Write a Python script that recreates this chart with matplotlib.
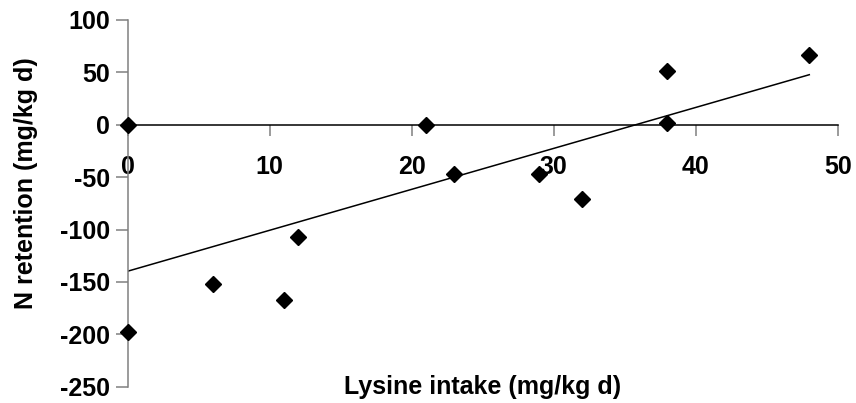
import numpy as np
import matplotlib
matplotlib.use("Agg")
import matplotlib.pyplot as plt

plt.rcParams["font.family"] = ["Liberation Sans", "DejaVu Sans"]
plt.rcParams["font.weight"] = "bold"
plt.rcParams["axes.unicode_minus"] = False

# lysine intake (mg/kg d) vs N retention (mg/kg d)
lys = [0, 0, 6, 11, 12, 21, 23, 29, 32, 38, 38, 48]
nret = [0, -198, -152, -167, -107, 0, -47, -47, -71, 51, 2, 67]

slope, icpt = np.polyfit(lys, nret, 1)
xfit = np.array([min(lys), max(lys)])

fig = plt.figure(figsize=(8.56, 4.03), dpi=100)
ax = fig.add_axes([0.1492, 0.0404, 0.8294, 0.91])

ax.plot(xfit, icpt + slope * xfit, color="black", lw=1.1, zorder=2)
ax.plot(lys, nret, "D", color="black", ms=8, zorder=3, clip_on=False)

ax.set_xlim(0, 50)
ax.set_ylim(-250, 100)
ax.set_xticks([0, 10, 20, 30, 40, 50])
ax.set_yticks([100, 50, 0, -50, -100, -150, -200, -250])

for s in ("top", "right"):
    ax.spines[s].set_visible(False)
ax.spines["bottom"].set_position(("data", 0))
ax.spines["bottom"].set_color("black")
ax.spines["bottom"].set_linewidth(1.1)
ax.spines["left"].set_color("#808080")
ax.spines["left"].set_linewidth(1.1)

ax.tick_params(axis="x", direction="out", length=8, width=1.1, color="#808080",
               pad=14, labelsize=18)
ax.tick_params(axis="y", direction="out", length=9, width=1.1, color="#808080",
               pad=4, labelsize=18)

ax.set_ylabel("N retention (mg/kg d)", fontsize=18, fontweight="bold")
ax.yaxis.set_label_coords(-0.127, 0.555)
fig.text(0.5639, 0.04, "Lysine intake (mg/kg d)", fontsize=18, fontweight="bold",
         ha="center", va="center")

fig.savefig("out.png", dpi=100)
